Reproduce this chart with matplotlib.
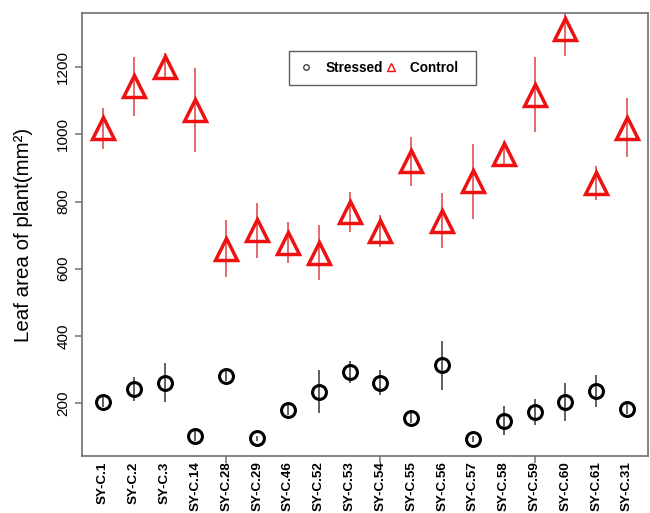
import matplotlib
matplotlib.use("Agg")
import matplotlib.pyplot as plt
import numpy as np

plt.rcParams["font.family"] = ["Liberation Sans", "DejaVu Sans"]

genotypes = ["SY-C.1", "SY-C.2", "SY-C.3", "SY-C.14", "SY-C.28", "SY-C.29",
             "SY-C.46", "SY-C.52", "SY-C.53", "SY-C.54", "SY-C.55", "SY-C.56",
             "SY-C.57", "SY-C.58", "SY-C.59", "SY-C.60", "SY-C.61", "SY-C.31"]
control = [1018, 1143, 1202, 1073, 660, 714, 678, 648, 770, 712, 920, 743,
           860, 943, 1118, 1315, 855, 1020]
control_err = [62, 88, 40, 125, 86, 82, 62, 83, 60, 48, 72, 82,
               113, 37, 112, 80, 50, 88]
stressed = [203, 241, 260, 102, 281, 95, 178, 234, 292, 261, 156, 312,
            93, 147, 173, 203, 235, 183]
stressed_err = [15, 35, 58, 15, 15, 8, 15, 64, 33, 37, 15, 74,
                10, 43, 38, 56, 48, 15]

x = np.arange(1, len(genotypes) + 1)
frame = "#707070"

fig = plt.figure(figsize=(6.5, 5.13), dpi=100)
ax = fig.add_axes([82 / 650, 1 - 456 / 513, (648 - 82) / 650, (456 - 13) / 513])

# error bars first, markers on top
ax.vlines(x, np.subtract(control, control_err), np.add(control, control_err),
          color="#e05050", lw=1.2, zorder=1)
ax.vlines(x, np.subtract(stressed, stressed_err), np.add(stressed, stressed_err),
          color="#444444", lw=1.2, zorder=1)
ax.plot(x, control, ls="none", marker="^", ms=16, mfc="none", mec="#ee1111",
        mew=2.5, zorder=2)
ax.plot(x, stressed, ls="none", marker="o", ms=10, mfc="none", mec="black",
        mew=2.2, zorder=2)

ax.set_xlim(0.32, 18.68)
ax.set_ylim(42, 1362)
ax.set_yticks([200, 400, 600, 800, 1000, 1200])
ax.set_yticklabels(["200", "400", "600", "800", "1000", "1200"], rotation=90,
                   va="center", fontsize=11)
ax.set_xticks([5, 10, 15])
ax.set_xticklabels([])
for xi, name in zip(x, genotypes):
    ax.text(xi, -0.012, name, transform=ax.get_xaxis_transform(), rotation=90,
            ha="center", va="top", fontsize=9.6, fontweight="bold")

for s in ax.spines.values():
    s.set_color(frame)
    s.set_linewidth(1.2)
ax.tick_params(colors=frame, labelcolor="black", length=5, width=1.1)
ax.set_ylabel("Leaf area of plant(mm²)", fontsize=14.8)
ax.yaxis.set_label_coords(-0.087, 0.5)

# legend
h1, = ax.plot([], [], ls="none", marker="o", ms=4, mfc="none", mec="#333333", mew=0.9)
h2, = ax.plot([], [], ls="none", marker="^", ms=5.5, mfc="none", mec="#ee1111", mew=1.0)
leg = ax.legend([h1, h2], ["Stressed", "Control  "], ncol=2, loc="upper left",
                bbox_to_anchor=((289 - 82) / 566, 1 - (51 - 13) / 443),
                borderaxespad=0, frameon=True, fancybox=False,
                handlelength=1.0, handletextpad=0.9, columnspacing=0.1,
                borderpad=0.75, prop={"weight": "bold", "size": 9.8})
leg.get_frame().set_edgecolor("#333333")
leg.get_frame().set_linewidth(1.0)

fig.savefig("out.png", dpi=100)
